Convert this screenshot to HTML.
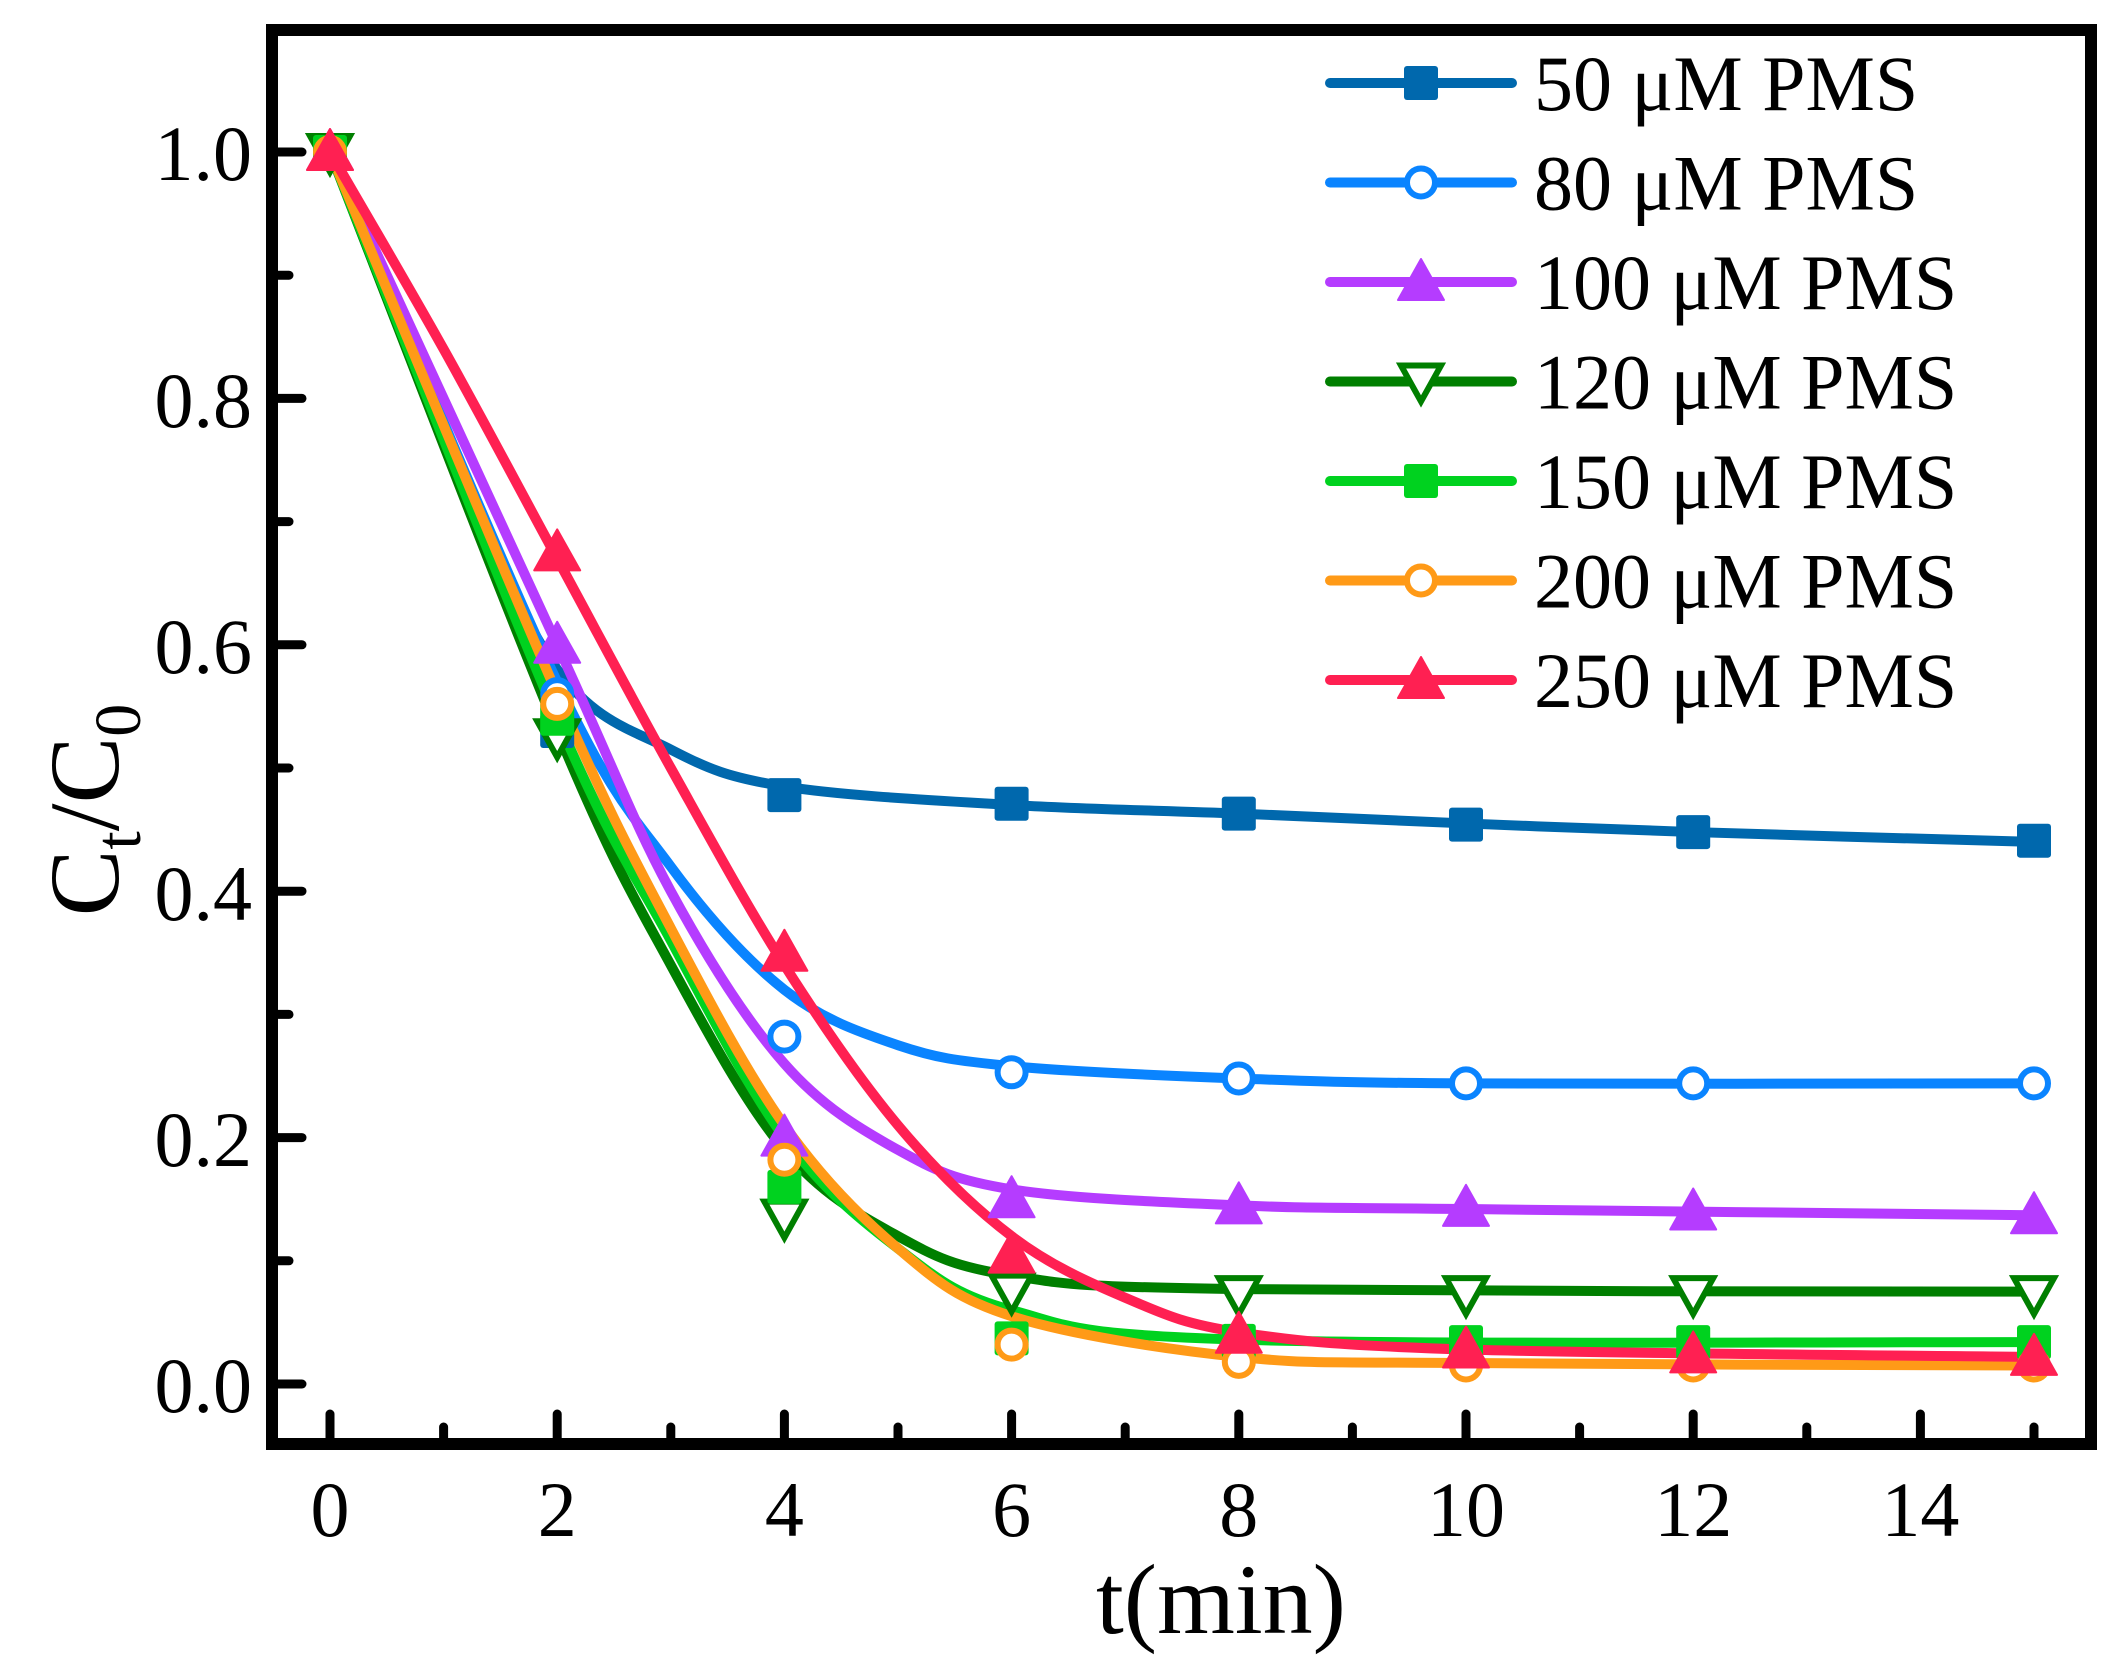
<!DOCTYPE html>
<html><head><meta charset="utf-8">
<style>
html,body{margin:0;padding:0;background:#fff;}
svg{display:block;}
text{font-family:"Liberation Serif","DejaVu Serif",serif;fill:#000;}
</style></head>
<body>
<svg id="s" width="2123" height="1668" viewBox="0 0 2123 1668" xmlns="http://www.w3.org/2000/svg">
<rect width="2123" height="1668" fill="#fff"/>
<g id="plot"></g>
<g id="ticks" stroke="#000" stroke-width="9" stroke-linecap="round"></g>
<rect x="272" y="30" width="1819" height="1414" fill="none" stroke="#000" stroke-width="12"/>
<g font-size="78" text-anchor="end">
<text x="252" y="180">1.0</text>
<text x="252" y="427">0.8</text>
<text x="252" y="673">0.6</text>
<text x="252" y="920">0.4</text>
<text x="252" y="1166">0.2</text>
<text x="252" y="1412">0.0</text>
</g>
<g font-size="78" text-anchor="middle" id="xl"></g>
<text x="1221" y="1633" font-size="100" text-anchor="middle">t(min)</text>
<text transform="translate(118,810) rotate(-90)" font-size="100" text-anchor="middle">C<tspan font-size="66" dy="22">t</tspan><tspan dy="-22">/C</tspan><tspan font-size="66" dy="22">0</tspan></text>
<g id="leg"></g>
</svg>
<script>
var NS="http://www.w3.org/2000/svg";
function X(t){return 330+113.6*t;}
function Y(v){return 152+(1-v)*1232;}
function el(tag,attrs,parent){var e=document.createElementNS(NS,tag);for(var k in attrs)e.setAttribute(k,attrs[k]);parent.appendChild(e);return e;}
var ticks=document.getElementById('ticks');
for(var i=0;i<=15;i++){var len=(i%2==0&&i<15)?24:11;el('line',{x1:X(i),y1:1438,x2:X(i),y2:1438-len},ticks);}
for(var j=0;j<=10;j++){var v=j*0.1;var len=(j%2==0)?24:11;el('line',{x1:278,y1:Y(v),x2:278+len,y2:Y(v)},ticks);}
var xl=document.getElementById('xl');
[0,2,4,6,8,10,12,14].forEach(function(t){var e=el('text',{x:X(t),y:1536},xl);e.textContent=t;});
var S=[
{c:"#0068ad",m:"sq",curve:[[0,1],[1,0.77],[2,0.58],[3,0.515],[4,0.485],[6,0.47],[8,0.463],[10,0.455],[12,0.448],[15,0.44]],pts:[[0,1],[2,0.53],[4,0.478],[6,0.471],[8,0.463],[10,0.454],[12,0.448],[15,0.441]]},
{c:"#0a84ff",m:"oc",curve:[[0,1],[2,0.57],[3,0.42],[4,0.32],[5,0.275],[6,0.258],[8,0.248],[10,0.244],[15,0.244]],pts:[[0,1],[2,0.56],[4,0.282],[6,0.253],[8,0.248],[10,0.244],[12,0.244],[15,0.244]]},
{c:"#b53cff",m:"tu",curve:[[0,1],[2,0.6],[3,0.4],[4,0.26],[5,0.19],[6,0.158],[8,0.145],[10,0.142],[15,0.137]],pts:[[0,1],[2,0.6],[4,0.2],[6,0.15],[8,0.145],[10,0.143],[12,0.14],[15,0.137]]},
{c:"#007f00",m:"td",curve:[[0,1],[2,0.53],[3,0.34],[4,0.19],[5,0.12],[6,0.088],[8,0.077],[15,0.075]],pts:[[0,1],[2,0.525],[4,0.135],[6,0.075],[8,0.073],[10,0.073],[12,0.073],[15,0.073]]},
{c:"#00d21f",m:"sq",curve:[[0,1],[2,0.54],[3,0.36],[4,0.2],[5,0.11],[6,0.06],[8,0.036],[15,0.034]],pts:[[0,1],[2,0.54],[4,0.16],[6,0.037],[8,0.035],[10,0.034],[12,0.034],[15,0.034]]},
{c:"#ff9a17",m:"oc",curve:[[0,1],[2,0.56],[3,0.37],[4,0.21],[5,0.11],[6,0.055],[8,0.022],[10,0.017],[15,0.015]],pts:[[0,1],[2,0.552],[4,0.182],[6,0.032],[8,0.018],[10,0.015],[12,0.015],[15,0.015]]},
{c:"#ff2052",m:"tu",curve:[[0,1],[1,0.84],[2,0.67],[3,0.5],[4,0.34],[5,0.21],[6,0.12],[7,0.07],[8,0.042],[10,0.028],[15,0.022]],pts:[[0,1],[2,0.675],[4,0.35],[6,0.105],[8,0.04],[10,0.028],[12,0.024],[15,0.022]]}
];
function cr(p){var P=p.map(function(a){return [X(a[0]),Y(a[1])];});var d="M"+P[0][0]+","+P[0][1];
for(var i=0;i<P.length-1;i++){var p0=P[i-1]||P[i],p1=P[i],p2=P[i+1],p3=P[i+2]||P[i+1];
var c1=[p1[0]+(p2[0]-p0[0])/6,p1[1]+(p2[1]-p0[1])/6],c2=[p2[0]-(p3[0]-p1[0])/6,p2[1]-(p3[1]-p1[1])/6];
d+=" C"+c1[0]+","+c1[1]+" "+c2[0]+","+c2[1]+" "+p2[0]+","+p2[1];}return d;}
function marker(type,x,y,c,g){
 if(type=="sq")el('rect',{x:x-17,y:y-17,width:34,height:34,rx:3,fill:c},g);
 else if(type=="oc")el('circle',{cx:x,cy:y,r:14,fill:"#fff",stroke:c,"stroke-width":6},g);
 else if(type=="tu")el('polygon',{points:(x)+","+(y-23)+" "+(x-23)+","+(y+18)+" "+(x+23)+","+(y+18),fill:c,"stroke-linejoin":"round",stroke:c,"stroke-width":2},g);
 else if(type=="td")el('polygon',{points:(x-20)+","+(y-16)+" "+(x+20)+","+(y-16)+" "+x+","+(y+20),fill:"#fff",stroke:c,"stroke-width":6},g);
}
var plot=document.getElementById('plot');
S.forEach(function(s){el('path',{d:cr(s.curve),fill:"none",stroke:s.c,"stroke-width":10,"stroke-linecap":"round"},plot);});
S.forEach(function(s){s.pts.forEach(function(p){marker(s.m,X(p[0]),Y(p[1]),s.c,plot);});});
var leg=document.getElementById('leg');
var labels=["50 μM PMS","80 μM PMS","100 μM PMS","120 μM PMS","150 μM PMS","200 μM PMS","250 μM PMS"];
S.forEach(function(s,i){var y=83+99.5*i;
 el('line',{x1:1330,y1:y,x2:1512,y2:y,stroke:s.c,"stroke-width":10,"stroke-linecap":"round"},leg);
 marker(s.m,1421,y,s.c,leg);
 var t=el('text',{x:1534,y:y+27,"font-size":78},leg);t.textContent=labels[i];});
</script>
</body></html>
